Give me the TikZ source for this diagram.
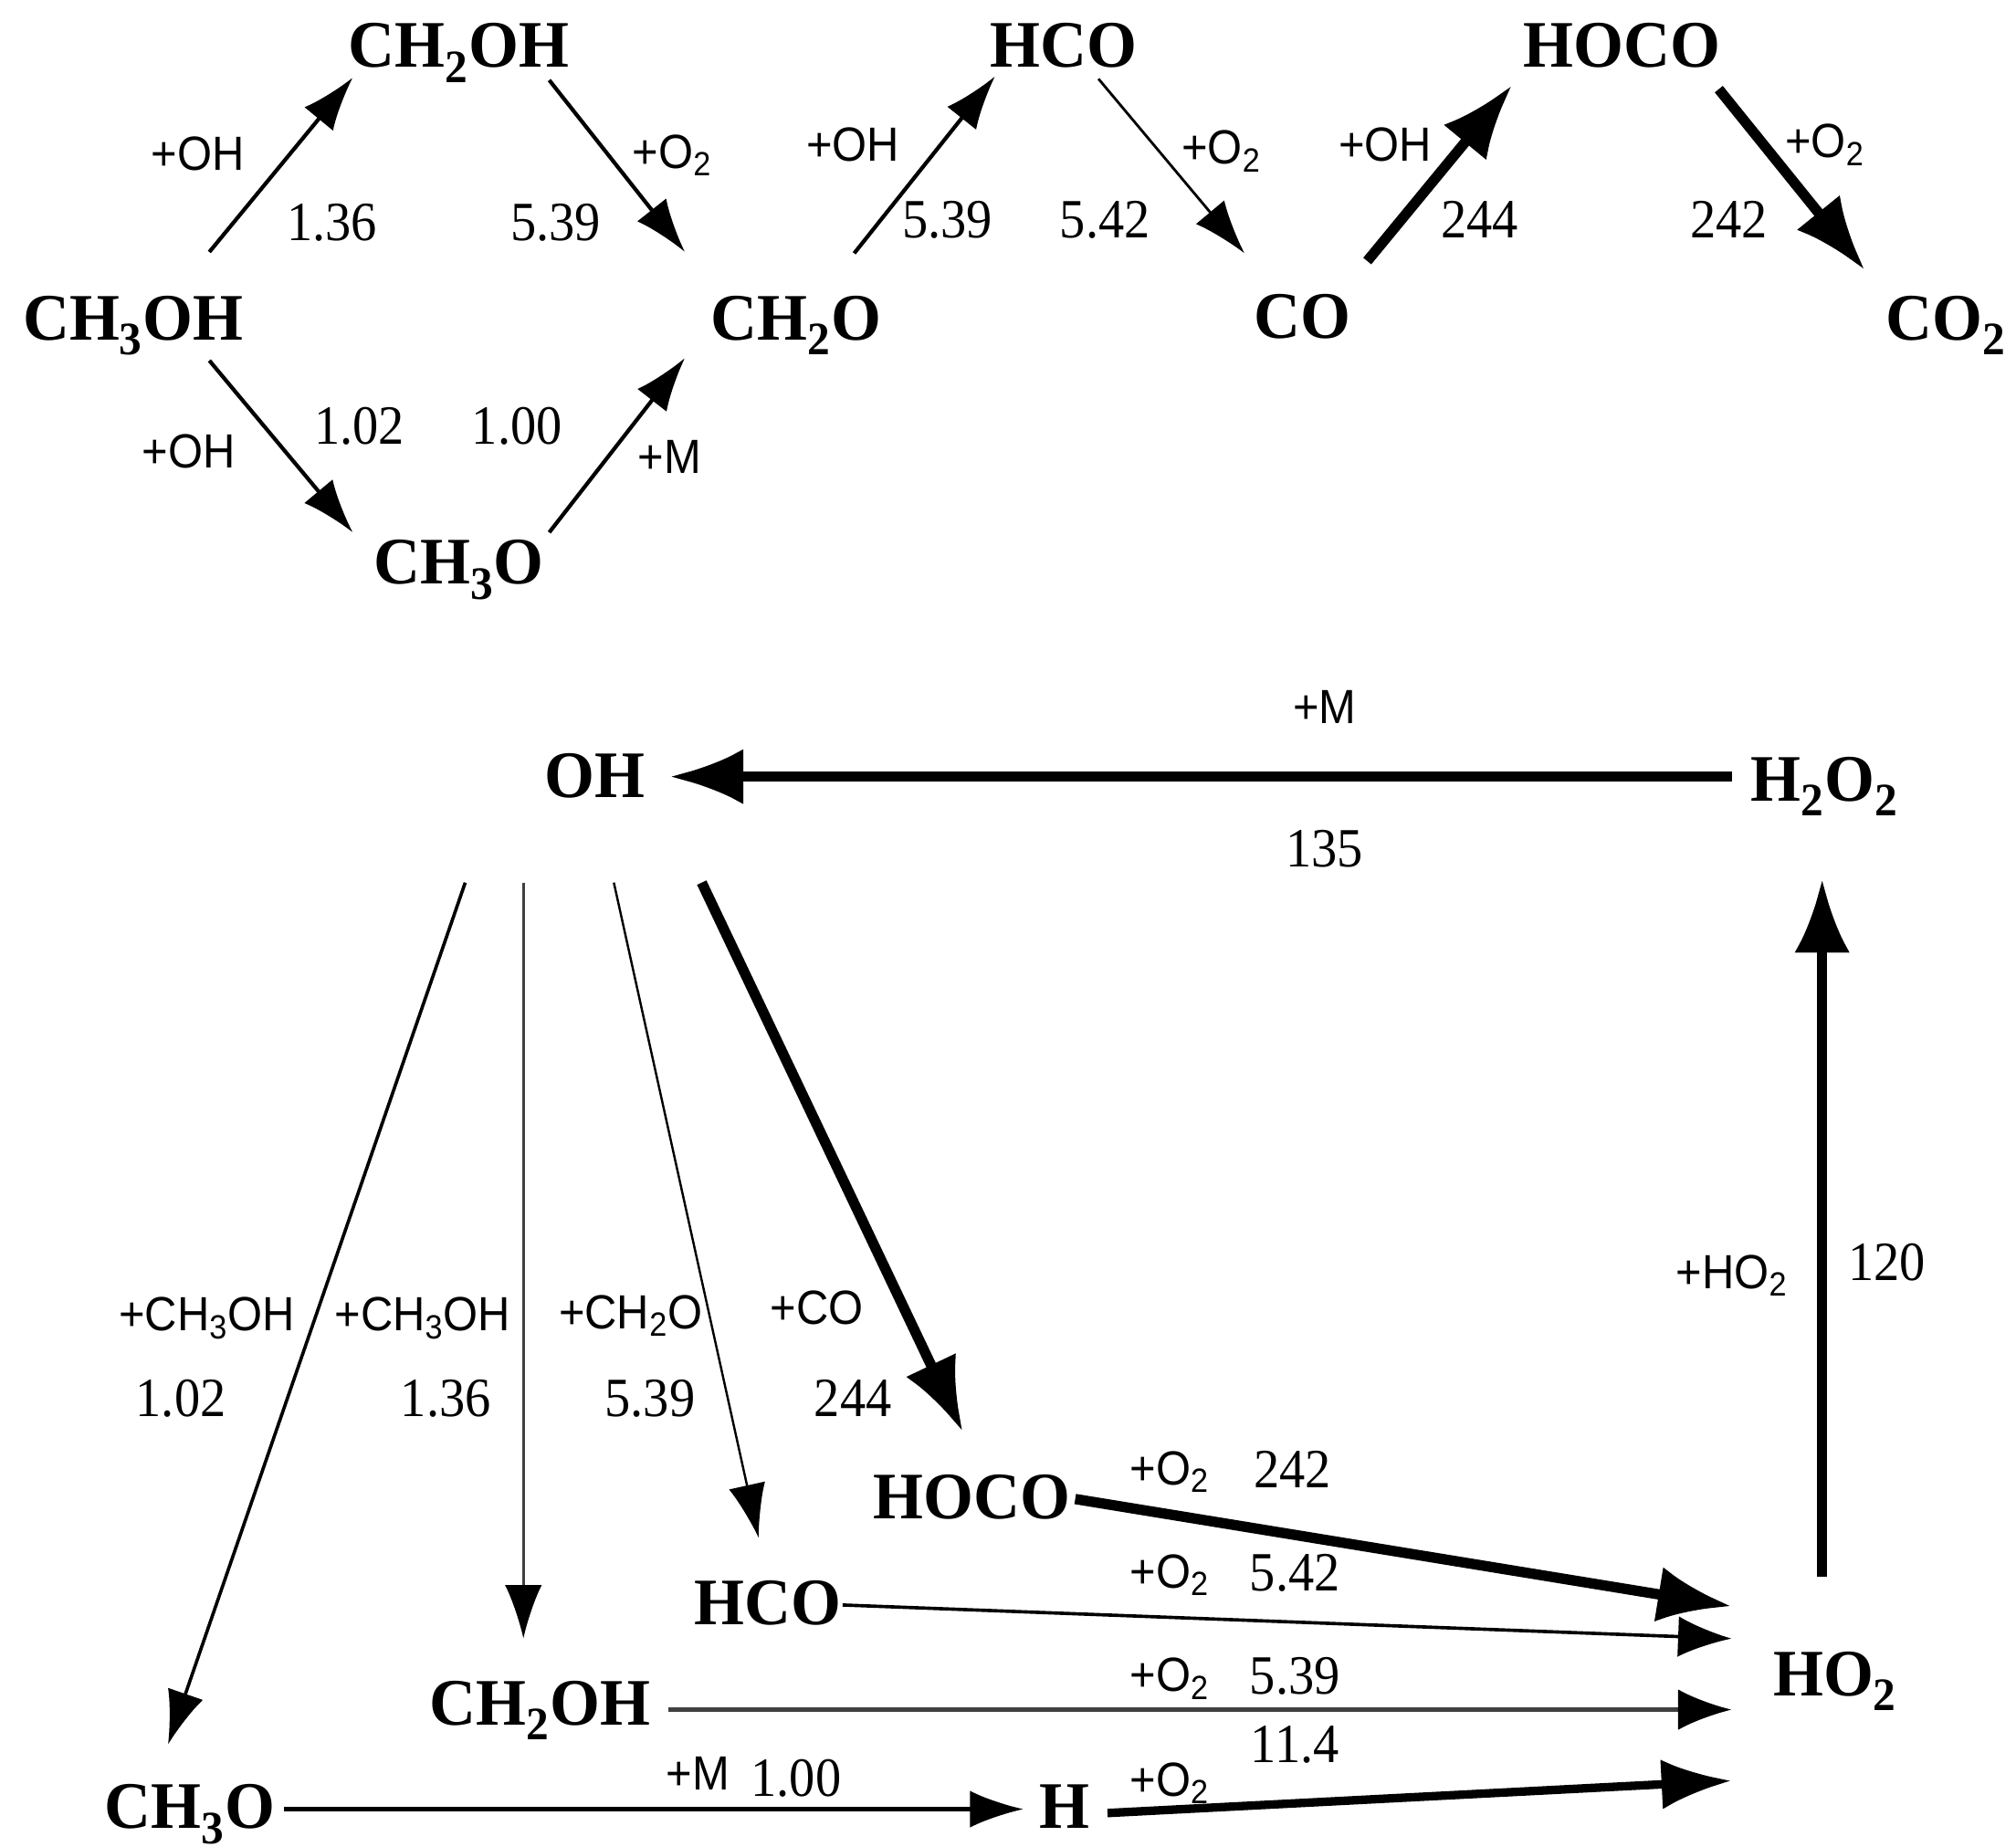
\documentclass[tikz,border=0pt]{standalone}
\usepackage{fontspec}
\setmainfont{Liberation Serif}
\newfontfamily\spfam[FakeStretch=0.97]{Liberation Serif}
\newfontfamily\labfam[FakeStretch=0.93]{Liberation Sans}
\newfontfamily\numfam[FakeStretch=0.93]{Liberation Serif}
\usetikzlibrary{arrows.meta,calc}
\tikzset{
  sp/.style={font=\spfam\bfseries\fontsize{36}{40}\selectfont, inner sep=0pt, anchor=base},
  lab/.style={font=\labfam\fontsize{26}{30}\selectfont, inner sep=0pt, anchor=base},
  num/.style={font=\numfam\fontsize{30}{34}\selectfont, inner sep=0pt, anchor=base},
  arrA/.style={line width=2.1pt, -{Latex[length=29pt,width=20pt]}},
  arrB/.style={line width=1.4pt, -{Latex[length=29pt,width=20pt]}},
  arrC/.style={line width=5.6pt, -{Latex[length=40pt,width=30pt]}},
  arrD/.style={line width=4.6pt, -{Latex[length=38pt,width=27pt]}},
}
\begin{document}
\begin{tikzpicture}[x=0.7pt,y=-0.7pt]
\fill[white] (0,0) rectangle (1560,1428.6);
\useasboundingbox (0,0) rectangle (1560,1428.6);

% ---- top species
\node[sp] (ch2oh) at (355,52) {CH\textsubscript{2}OH};
\node[sp] (hco) at (823,52) {HCO};
\node[sp] (hoco) at (1255,52) {HOCO};
\node[sp] (ch3oh) at (103,263) {CH\textsubscript{3}OH};
\node[sp] (ch2o) at (616,263) {CH\textsubscript{2}O};
\node[sp] (co) at (1008,262) {CO};
\node[sp] (co2) at (1506,263) {CO\textsubscript{2}};
\node[sp] (ch3o) at (355,452) {CH\textsubscript{3}O};

% ---- top arrows
\draw[arrA] ($(ch3oh.base)+(59,-68)$) -- ($(ch2oh.base)+(-82,8)$);
\draw[arrA] ($(ch2oh.base)+(70,10)$) -- ($(ch2o.base)+(-86,-68)$);
\draw[arrA] ($(ch3oh.base)+(59,16)$) -- ($(ch3o.base)+(-82,-40)$);
\draw[arrA] ($(ch3o.base)+(70,-40)$) -- ($(ch2o.base)+(-86,14)$);
\draw[arrA] ($(ch2o.base)+(45,-67)$) -- ($(hco.base)+(-53,7)$);
\draw[arrB] ($(hco.base)+(27,9)$) -- ($(co.base)+(-45,-66)$);
\draw[arrC] ($(co.base)+(50,-60)$) -- ($(hoco.base)+(-85,14)$);
\draw[arrC] ($(hoco.base)+(75,17)$) -- ($(co2.base)+(-63,-54)$);

% ---- top labels
\node[lab] (l1) at (153,132) {+OH};
\node[num] (n1) at (257,186) {1.36};
\node[lab] (l2) at (520,130) {+O\textsubscript{2}};
\node[num] (n2) at (430,186) {5.39};
\node[lab] (l3) at (146,362) {+OH};
\node[num] (n3) at (278,344) {1.02};
\node[num] (n4) at (400,344) {1.00};
\node[lab] (l4) at (518,366) {+M};
\node[lab] (l5) at (660,125) {+OH};
\node[num] (n5) at (733,184) {5.39};
\node[lab] (l6) at (945,127) {+O\textsubscript{2}};
\node[num] (n6) at (855,184) {5.42};
\node[lab] (l7) at (1072,125) {+OH};
\node[num] (n7) at (1145,184) {244};
\node[lab] (l8) at (1412,122) {+O\textsubscript{2}};
\node[num] (n8) at (1338,184) {242};

% ---- bottom species
\node[sp] (oh) at (460,617) {OH};
\node[sp] (h2o2) at (1412,620) {H\textsubscript{2}O\textsubscript{2}};
\node[sp] (ho2) at (1420,1312) {HO\textsubscript{2}};
\node[sp] (hocob) at (752,1175) {HOCO};
\node[sp] (hcob) at (594,1257) {HCO};
\node[sp] (ch2ohb) at (418,1335) {CH\textsubscript{2}OH};
\node[sp] (ch3ob) at (147,1415) {CH\textsubscript{3}O};
\node[sp] (hb) at (824,1415) {H};

% ---- bottom arrows
\draw[arrC] ($(h2o2.base)+(-72,-19)$) -- ($(oh.base)+(58,-16)$);
\draw[arrC] ($(ho2.base)+(-10,-92)$) -- ($(h2o2.base)+(-2,60)$);
\draw[line width=1.8pt, -{Latex[length=29pt,width=20pt]}] ($(oh.base)+(-100,66)$) -- ($(ch3ob.base)+(-17,-65)$);
\draw[line width=1.6pt, black!75, -{Latex[length=29pt,width=20pt,color=black]}] ($(oh.base)+(-55,66)$) -- ($(ch2ohb.base)+(-13,-67)$);
\draw[line width=1.2pt, -{Latex[length=29pt,width=20pt]}] ($(oh.base)+(15,66)$) -- ($(hcob.base)+(-7,-67)$);
\draw[arrC] ($(oh.base)+(83,66)$) -- ($(hocob.base)+(-7,-67)$);
\draw[arrC] ($(hocob.base)+(80,-15)$) -- ($(ho2.base)+(-80,-69)$);
\draw[line width=1.8pt, -{Latex[length=29pt,width=22pt]}] ($(hcob.base)+(58,-15)$) -- ($(ho2.base)+(-80,-44)$);
\draw[line width=2.2pt, black!75, -{Latex[length=29pt,width=22pt,color=black]}] ($(ch2ohb.base)+(99,-12)$) -- ($(ho2.base)+(-80,11)$);
\draw[arrA] ($(ch3ob.base)+(73,-15)$) -- ($(hb.base)+(-32,-15)$);
\draw[arrD] ($(hb.base)+(33,-12)$) -- ($(ho2.base)+(-80,66)$);

% ---- bottom labels
\node[lab] (l9) at (1025,560) {+M};
\node[num] (n9) at (1025,671) {135};
\node[lab] (l10) at (1340,997) {+HO\textsubscript{2}};
\node[num] (n10) at (1460,991) {120};
\node[lab] (l11) at (160,1030) {+CH\textsubscript{3}OH};
\node[num] (n11) at (140,1096) {1.02};
\node[lab] (l12) at (327,1030) {+CH\textsubscript{3}OH};
\node[num] (n12) at (345,1096) {1.36};
\node[lab] (l13) at (488,1028) {+CH\textsubscript{2}O};
\node[num] (n13) at (503,1096) {5.39};
\node[lab] (l14) at (632,1025) {+CO};
\node[num] (n14) at (660,1096) {244};
\node[lab] (l15) at (905,1149) {+O\textsubscript{2}};
\node[num] (n15) at (1000,1151) {242};
\node[lab] (l16) at (905,1229) {+O\textsubscript{2}};
\node[num] (n16) at (1002,1231) {5.42};
\node[lab] (l17) at (905,1309) {+O\textsubscript{2}};
\node[num] (n17) at (1002,1311) {5.39};
\node[num] (n18) at (1002,1364) {11.4};
\node[lab] (l18) at (905,1390) {+O\textsubscript{2}};
\node[lab] (l19) at (540,1385) {+M};
\node[num] (n19) at (616,1390) {1.00};
\end{tikzpicture}
\end{document}
